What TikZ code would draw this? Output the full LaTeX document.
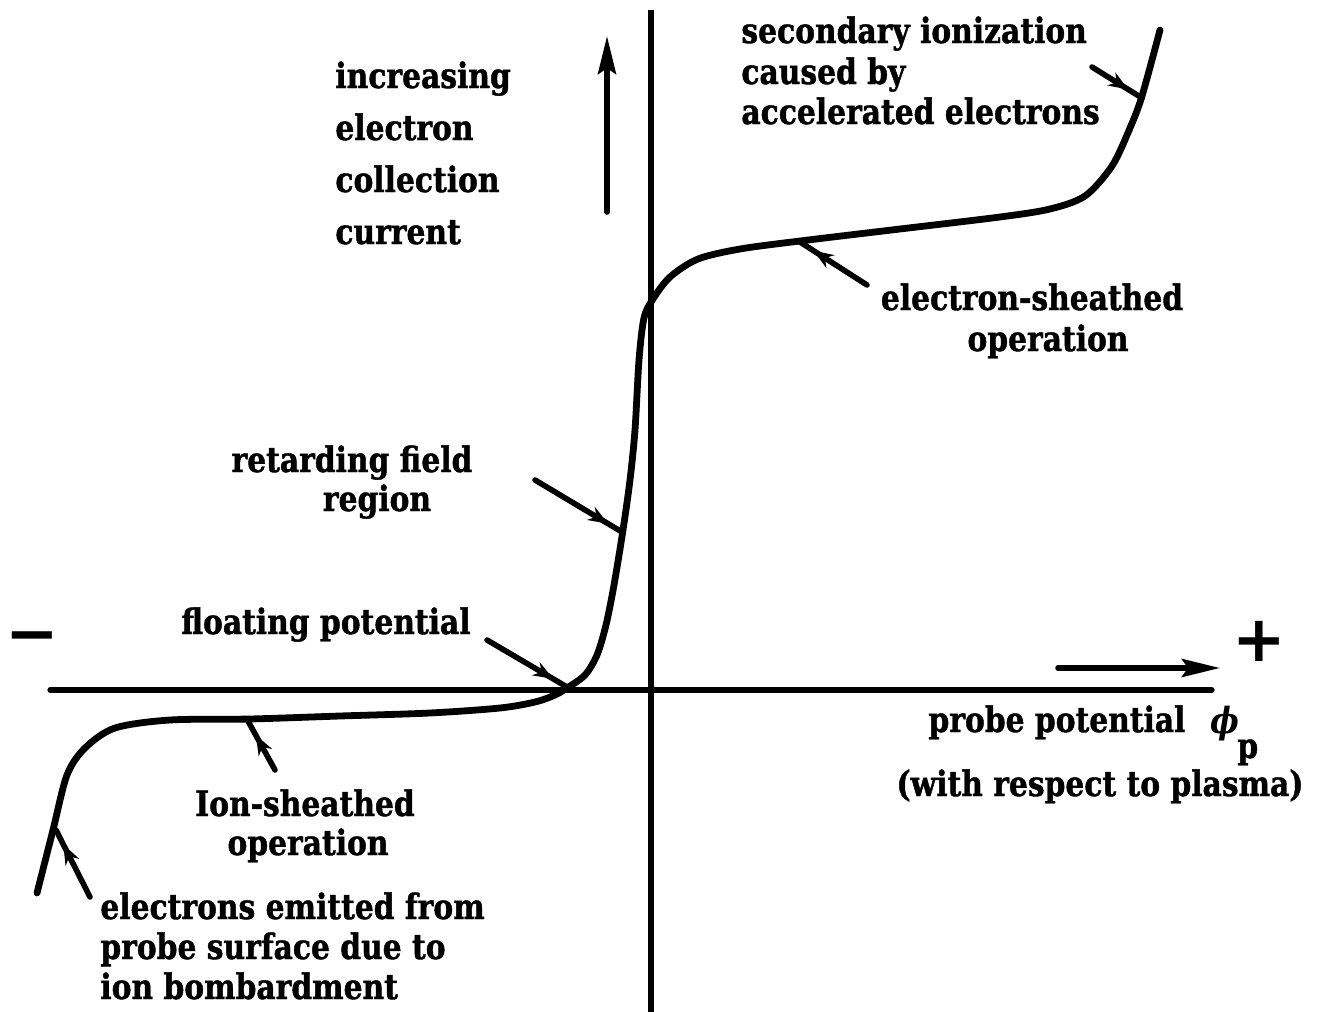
\documentclass[tikz,border=0pt]{standalone}
\usepackage{fontspec}
\setmainfont[FakeStretch=0.85,BoldFeatures={FakeBold=1.2}]{DejaVu Serif}
\newfontfamily\symfont{DejaVu Sans}
\usetikzlibrary{arrows.meta,decorations.markings}
\begin{document}
\begin{tikzpicture}[x=0.5pt,y=-0.5pt,
  lbl/.style={font=\fontsize{17.5}{20}\selectfont\bfseries, inner sep=0pt},
  sym/.style={font=\symfont\fontsize{32}{32}\selectfont\bfseries, inner sep=0pt},
  axis/.style={line width=2.6pt},
  curve/.style={line width=3.4pt, line cap=round, line join=round},
  ptr/.style={line width=2.8pt, line cap=round, postaction={decorate},
    decoration={markings, mark=at position -8pt with {\arrow{Stealth[length=10pt,width=7.5pt]}}}},
  bigarrow/.style={line width=2.8pt, line cap=round, -{Stealth[length=19pt,width=9pt,inset=3pt]}}]
\useasboundingbox (0,0) rectangle (1318,1012);

% axes
\coordinate (xL) at (50,690);
\coordinate (xR) at (1212,690);
\coordinate (yT) at (651,10);
\coordinate (yB) at (651,1012);
\draw[axis, line cap=round] (xL) -- (xR);
\draw[axis] (yT) -- (yB);

% direction arrows
\coordinate (upS) at (607,212);
\coordinate (upE) at (607,36);
\draw[bigarrow] (upS) -- (upE);
\coordinate (rtS) at (1058,668);
\coordinate (rtE) at (1220,668);
\draw[bigarrow] (rtS) -- (rtE);

% characteristic curve
\draw[curve] plot[smooth, tension=0.5] coordinates {
  (37,893) (53,830) (67,775) (85,748) (115,728) (170,720) (250,719) (340,716) (430,713)
  (500,708) (535,702) (555,695) (567,688) (585,675) (597,655) (606,625) (614,585)
  (623,530) (630,480) (635,430) (639,360) (644,318) (653,299) (670,277) (698,259)
  (740,249) (800,241) (900,229) (1000,217) (1050,209) (1085,196) (1112,166)
  (1130,128) (1142,96) (1160,30)};

% labels
\node[lbl, anchor=base west] (t1) at (335,88) {increasing};
\node[lbl, anchor=base west] (t2) at (335,140) {electron};
\node[lbl, anchor=base west] (t3) at (335,192) {collection};
\node[lbl, anchor=base west] (t4) at (335,244) {current};

\node[lbl, anchor=base west] (s1) at (741,43) {secondary ionization};
\node[lbl, anchor=base west] (s2) at (741,84) {caused by};
\node[lbl, anchor=base west] (s3) at (741,124) {accelerated electrons};

\node[lbl, anchor=base] (e1) at (1032,310) {electron-sheathed};
\node[lbl, anchor=base] (e2) at (1048,351) {operation};

\node[lbl, anchor=base] (r1) at (352,472) {retarding field};
\node[lbl, anchor=base] (r2) at (377,511) {region};

\node[lbl, anchor=base] (f1) at (326,634) {floating potential};

\node[lbl, anchor=base] (p1) at (1057,732) {probe potential};
\node[lbl, anchor=base west, font=\fontsize{18}{18}\selectfont\bfseries\itshape] (phi) at (1210,733) {ϕ};
\node[lbl, anchor=base west] (sub) at (1237,758) {p};
\node[lbl, anchor=base] (p2) at (1100,796) {(with respect to plasma)};

\node[lbl, anchor=base] (i1) at (305,816) {Ion-sheathed};
\node[lbl, anchor=base] (i2) at (308,855) {operation};

\node[lbl, anchor=base west] (b1) at (100,919) {electrons emitted from};
\node[lbl, anchor=base west] (b2) at (100,959) {probe surface due to};
\node[lbl, anchor=base west] (b3) at (100,999) {ion bombardment};

\node[sym] (minus) at (32,644) {−};
\node[sym] (plus) at (1259,641) {+};

% pointer arrows
\coordinate (aS1) at (1092,67);   \coordinate (aE1) at (1142,98);
\coordinate (aS2) at (867,285);   \coordinate (aE2) at (800,242);
\coordinate (aS3) at (535,480);   \coordinate (aE3) at (622,532);
\coordinate (aS4) at (487,640);   \coordinate (aE4) at (567,687);
\coordinate (aS5) at (275,770);   \coordinate (aE5) at (248,721);
\coordinate (aS6) at (90,897);    \coordinate (aE6) at (56,830);
\draw[ptr] (aS1) -- (aE1);
\draw[ptr] (aS2) -- (aE2);
\draw[ptr] (aS3) -- (aE3);
\draw[ptr] (aS4) -- (aE4);
\draw[ptr] (aS5) -- (aE5);
\draw[ptr] (aS6) -- (aE6);
\end{tikzpicture}
\end{document}
